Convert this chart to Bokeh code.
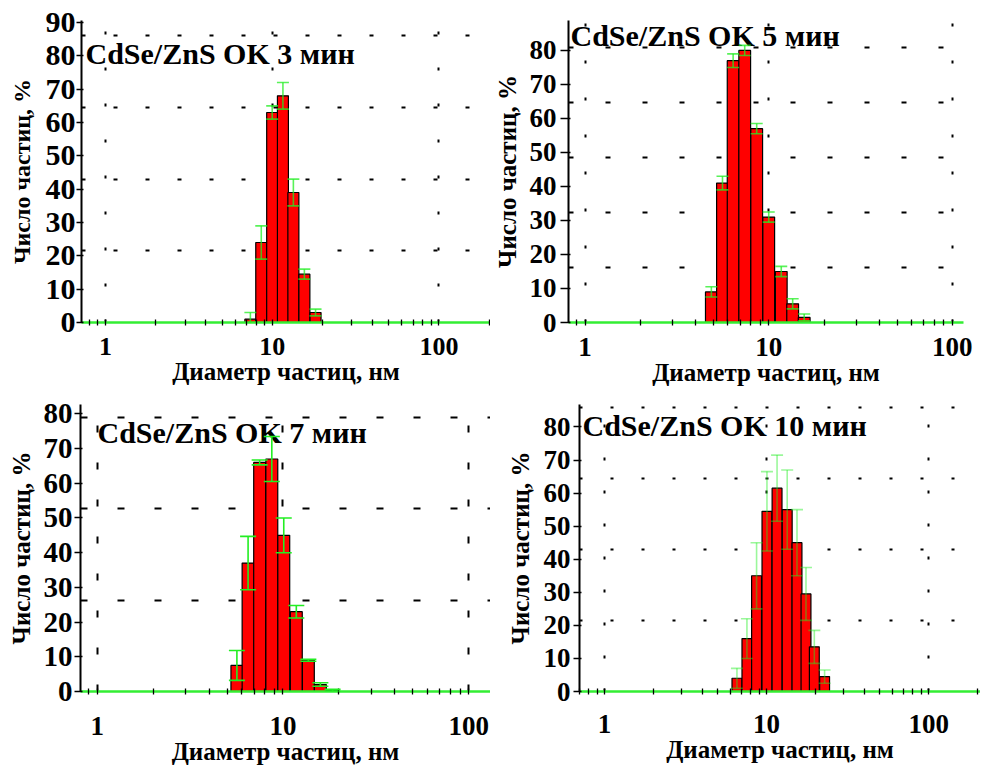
from bokeh.plotting import figure
from bokeh.layouts import column, row
from bokeh.models import ColumnDataSource, Whisker, TeeHead, FixedTicker, Label, Range1d
from bokeh.embed import file_html
from bokeh.resources import INLINE

# ---------------- data ----------------
x_tick_values = [1, 10, 100]
x_tick_labels = ["1", "10", "100"]
x_label = "Диаметр частиц, нм"
y_label = "Число частиц, %"

titles = ["CdSe/ZnS OK 3 мин", "CdSe/ZnS OK 5 мин", "CdSe/ZnS OK 7 мин", "CdSe/ZnS OK 10 мин"]

# 3 min
d3_nm = [7.4, 8.6, 10.0, 11.6, 13.4, 15.6, 18.2]
n3_pct = [1, 24, 63, 68, 39, 14.5, 3]
e3_pct = [2, 5, 2, 4, 4, 1.5, 1]

# 5 min
d5_nm = [4.87, 5.6, 6.4, 7.4, 8.6, 10.0, 11.7, 13.5, 15.6]
n5_pct = [9, 41, 77, 80, 57, 31, 15, 5.5, 1.5]
e5_pct = [1.5, 2, 2, 1.5, 1.5, 1.5, 1.5, 1.5, 1]

# 7 min
d7_nm = [5.65, 6.49, 7.49, 8.71, 10.1, 11.8, 13.7, 15.9, 18.5]
n7_pct = [7.5, 37, 66, 67, 45, 23, 9, 2, 0.3]
e7_pct = [4.3, 7.7, 0.7, 6.5, 5, 1.8, 0.3, 0.5, 0.3]

# 10 min
d10_nm = [6.56, 7.56, 8.67, 10.05, 11.6, 13.4, 15.4, 17.5, 19.7, 22.8]
n10_pct = [4, 16, 35, 54.5, 61.5, 55, 45, 29.5, 13.5, 4.5]
e10_pct = [3, 6, 10, 12, 10, 12, 10, 8, 5, 2]

series = [(d3_nm, n3_pct, e3_pct), (d5_nm, n5_pct, e5_pct),
          (d7_nm, n7_pct, e7_pct), (d10_nm, n10_pct, e10_pct)]

# ---------------- layout / style ----------------
FONT = "Liberation Serif"
minor_x = [m * 10.0 ** k for k in (-1, 0, 1, 2) for m in range(2, 10)]

panels = [
    dict(w=490, h=390, bl=81, br=0, bt=20, bb=68, x0=0.718, x1=204, y1=90.6, ymax_tick=90,
         gy=[21.5, 43, 64.5, 86], hdash="4 28", vdash="3 33", ytfs="30px", xtfs="26px",
         ylfs="24px", xlfs="25px", tfs="30px", ty=80.7, tox=4, ytout=5, ytst=1, ylst=8,
         xst=12, xlst=0, bw=0.066, ealpha=0.75, cap=12),
    dict(w=490, h=390, bl=75, br=17, bt=20, bb=68, x0=0.812, x1=115, y1=88.8, ymax_tick=80,
         gy=[16.2, 32.4, 48.6, 64.8, 81], hdash="5 32", vdash="3 34", ytfs="27px", xtfs="27px",
         ylfs="25px", xlfs="25px", tfs="30px", ty=84.4, tox=2, ytout=8, ytst=4, ylst=6,
         xst=12, xlst=0, bw=0.064, ealpha=0.75, cap=12),
    dict(w=490, h=377, bl=80, br=0, bt=14, bb=74, x0=0.813, x1=131, y1=82.7, ymax_tick=80,
         gy=[26.3, 52.6, 78.9], hdash="7 30", vdash="7 30", ytfs="29px", xtfs="27px",
         ylfs="25px", xlfs="25px", tfs="30px", ty=74.7, tox=17, ytout=6, ytst=2, ylst=6,
         xst=22, xlst=0, bw=0.064, ealpha=1.0, cap=16),
    dict(w=490, h=377, bl=89, br=0, bt=14, bb=74, x0=0.70, x1=209, y1=86.8, ymax_tick=80,
         gy=[21.5, 43, 64.5, 86], hdash="3 28", vdash="3 30", ytfs="27px", xtfs="27px",
         ylfs="25px", xlfs="25px", tfs="30px", ty=80.5, tox=3, ytout=6, ytst=3, ylst=7,
         xst=20, xlst=0, bw=0.061, ealpha=0.45, cap=12),
]


def make_panel(cfg, title, d, n, e):
    p = figure(width=cfg["w"], height=cfg["h"], x_axis_type="log",
               x_range=Range1d(cfg["x0"], cfg["x1"]), y_range=Range1d(0, cfg["y1"]),
               output_backend="svg", toolbar_location=None, title=None,
               min_border_left=cfg["bl"], min_border_right=cfg["br"],
               min_border_top=cfg["bt"], min_border_bottom=cfg["bb"])
    p.outline_line_color = None
    p.background_fill_color = "white"
    p.border_fill_color = "white"

    half = 10 ** (cfg["bw"] / 2)
    src = ColumnDataSource(dict(
        x=d, top=n,
        left=[v / half for v in d], right=[v * half for v in d],
        upper=[a + b for a, b in zip(n, e)], lower=[a - b for a, b in zip(n, e)]))
    p.quad(left="left", right="right", bottom=0, top="top", source=src,
           fill_color="#ff0000", line_color="black", line_width=1.2)

    green = "#22ee22"
    w = Whisker(base="x", upper="upper", lower="lower", source=src,
                line_color=green, line_width=1.6, line_alpha=cfg["ealpha"],
                upper_head=TeeHead(size=cfg["cap"], line_color=green, line_width=1.6,
                                   line_alpha=cfg["ealpha"]),
                lower_head=TeeHead(size=cfg["cap"], line_color=green, line_width=1.6,
                                   line_alpha=cfg["ealpha"]))
    w.level = "overlay"
    p.add_layout(w)

    # x axis (green baseline)
    xa = p.xaxis[0]
    xa.ticker = FixedTicker(ticks=x_tick_values, minor_ticks=minor_x)
    xa.major_label_overrides = {v: s for v, s in zip(x_tick_values, x_tick_labels)}
    xa.axis_line_color = "#33ee33"
    xa.axis_line_width = 2.5
    xa.major_tick_line_color = "black"
    xa.minor_tick_line_color = "black"
    xa.major_tick_in = 3
    xa.major_tick_out = 3
    xa.minor_tick_in = 3
    xa.minor_tick_out = 3
    xa.major_tick_line_width = 1.3
    xa.minor_tick_line_width = 1.3
    xa.major_label_text_font = FONT
    xa.major_label_text_font_style = "bold"
    xa.major_label_text_font_size = cfg["xtfs"]
    xa.major_label_text_color = "black"
    xa.major_label_standoff = cfg["xst"]
    xa.axis_label = x_label
    xa.axis_label_text_font = FONT
    xa.axis_label_text_font_style = "bold"
    xa.axis_label_text_font_size = cfg["xlfs"]
    xa.axis_label_text_color = "black"
    xa.axis_label_standoff = cfg["xlst"]

    # y axis
    ya = p.yaxis[0]
    ya.ticker = FixedTicker(ticks=list(range(0, cfg["ymax_tick"] + 1, 10)))
    ya.axis_line_color = "black"
    ya.axis_line_width = 2
    ya.major_tick_line_color = "black"
    ya.major_tick_line_width = 1.5
    ya.major_tick_out = cfg["ytout"]
    ya.major_tick_in = 2
    ya.minor_tick_line_color = None
    ya.major_label_text_font = FONT
    ya.major_label_text_font_style = "bold"
    ya.major_label_text_font_size = cfg["ytfs"]
    ya.major_label_text_color = "black"
    ya.major_label_standoff = cfg["ytst"]
    ya.axis_label = y_label
    ya.axis_label_text_font = FONT
    ya.axis_label_text_font_style = "bold"
    ya.axis_label_text_font_size = cfg["ylfs"]
    ya.axis_label_text_color = "black"
    ya.axis_label_standoff = cfg["ylst"]

    # dotted grid
    p.xgrid.ticker = FixedTicker(ticks=x_tick_values)
    p.xgrid.grid_line_color = "black"
    p.xgrid.grid_line_width = 2
    p.xgrid.grid_line_dash = cfg["vdash"]
    p.ygrid.ticker = FixedTicker(ticks=cfg["gy"])
    p.ygrid.grid_line_color = "black"
    p.ygrid.grid_line_width = 2
    p.ygrid.grid_line_dash = cfg["hdash"]

    lab = Label(x=cfg["x0"], y=cfg["ty"], x_offset=cfg["tox"], text=title,
                text_font=FONT, text_font_style="bold", text_font_size=cfg["tfs"],
                text_baseline="middle", text_align="left", text_color="black")
    p.add_layout(lab)
    return p


figs = [make_panel(cfg, t, *s) for cfg, t, s in zip(panels, titles, series)]
layout = column(row(figs[0], figs[1]), row(figs[2], figs[3]))

open("out.html", "w").write(file_html(layout, INLINE))
